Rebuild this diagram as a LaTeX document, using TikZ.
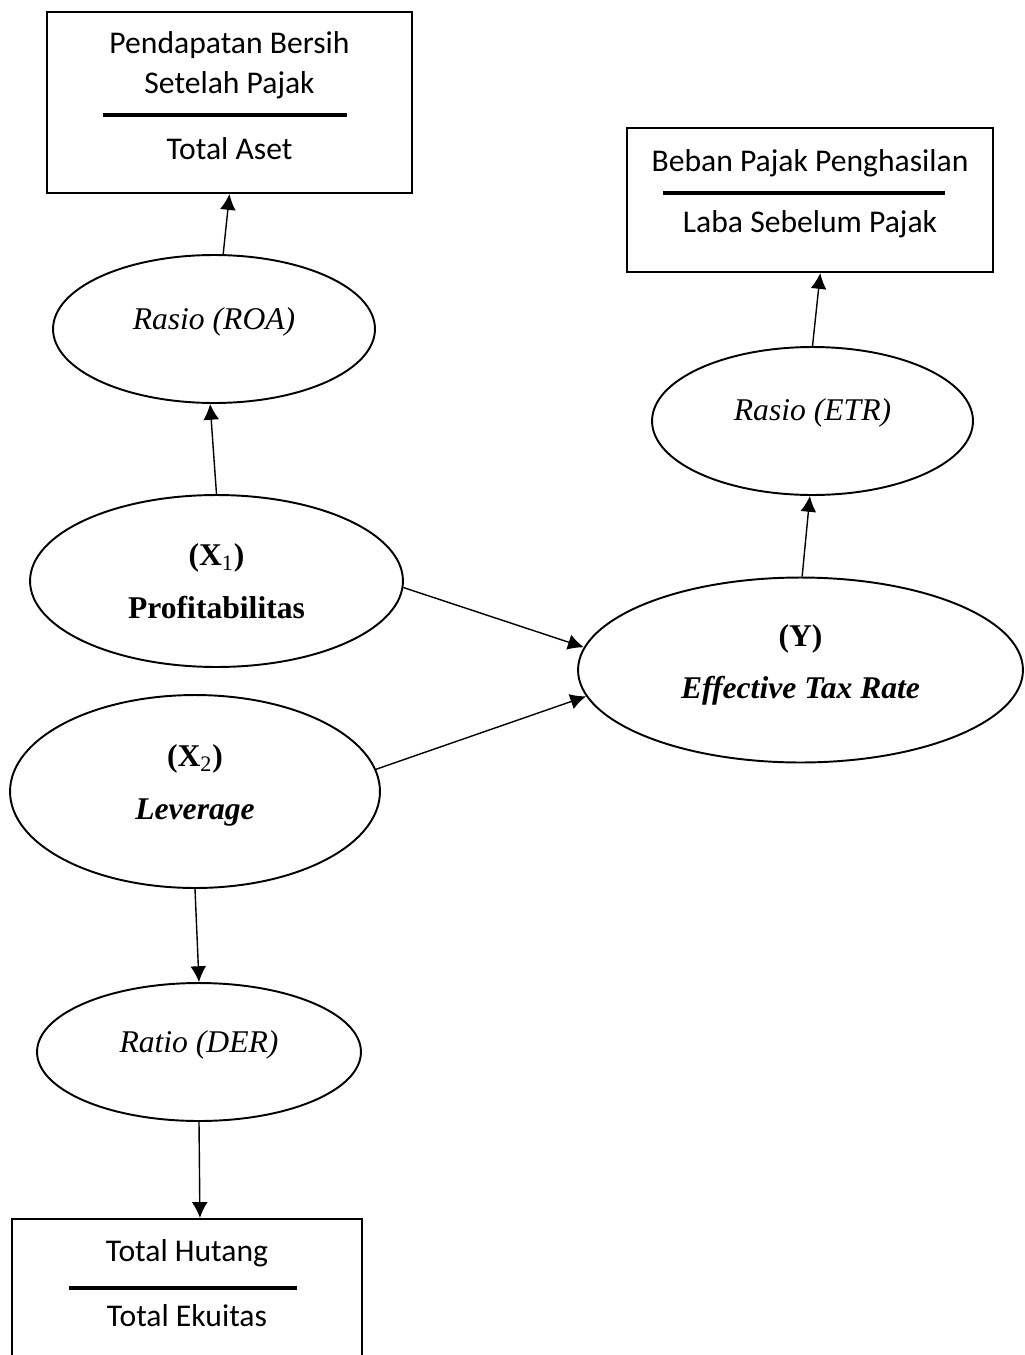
\documentclass[tikz,border=0pt]{standalone}
\usepackage{fontspec}
\setmainfont{Liberation Serif}
\newfontfamily\boxfont{Carlito}
\usetikzlibrary{shapes.geometric,arrows.meta}
\tikzset{>={Latex[length=9pt,width=9pt]}}
\tikzset{
  var/.style={draw, ellipse, line width=1.1pt, inner sep=0pt, align=center, font=\fontsize{18}{30}\selectfont},
  ratiobox/.style={draw, rectangle, line width=1.2pt},
  boxtext/.style={inner sep=0pt, font=\boxfont\fontsize{18}{22}\selectfont},
  link/.style={->, line width=0.8pt},
  fracline/.style={line width=1.8pt}
}

\begin{document}
\begin{tikzpicture}[x=0.02cm,y=-0.02cm]
        \useasboundingbox (0,0) rectangle (1024,1355);

        % indicator boxes
        \node[ratiobox, minimum width=7.3cm, minimum height=3.62cm] (roabox) at (229.5,102.5) {};
        \node[boxtext] (roatop) at (229.5,45) {Pendapatan Bersih};
        \node[boxtext] (roamid) at (229.5,85) {Setelah Pajak};
        \node[boxtext] (roabot) at (229.5,149) {Total Aset};
        \draw[fracline] (103,115) -- (347,115);

        \node[ratiobox, minimum width=7.32cm, minimum height=2.88cm] (etrbox) at (810,200) {};
        \node[boxtext] (etrtop) at (810,163) {Beban Pajak Penghasilan};
        \node[boxtext] (etrbot) at (810,224) {Laba Sebelum Pajak};
        \draw[fracline] (663,193) -- (945,193);

        \node[ratiobox, minimum width=7.0cm, minimum height=3.64cm] (derbox) at (187,1310) {};
        \node[boxtext] (dertop) at (187,1253) {Total Hutang};
        \node[boxtext] (derbot) at (187,1316) {Total Ekuitas};
        \draw[fracline] (69,1288) -- (297,1288);

        % variables
        \node[var, minimum width=6.44cm, minimum height=2.96cm, text depth=12pt] (roa) at (214,329) {\textit{Rasio (ROA)}};
        \node[var, minimum width=6.42cm, minimum height=2.96cm, text depth=13pt] (etr) at (812.5,421) {\textit{Rasio (ETR)}};
        \node[var, minimum width=7.46cm, minimum height=3.44cm] (xone) at (216.5,581) {\textbf{(X\textsubscript{\mdseries 1})}\\\textbf{Profitabilitas}};
        \node[var, minimum width=7.4cm, minimum height=3.86cm, text depth=11pt] (xtwo) at (195,791.5) {\textbf{(X\textsubscript{\mdseries 2})}\\\textbf{\textit{Leverage}}};
        \node[var, minimum width=8.9cm, minimum height=3.7cm, text depth=9.5pt] (yvar) at (800.5,670) {\textbf{(Y)}\\\textbf{\textit{Effective Tax Rate}}};
        \node[var, minimum width=6.48cm, minimum height=2.76cm, text depth=12pt] (der) at (199,1052) {\textit{Ratio (DER)}};

        \draw[link] (roa.83) -- (roabox.south);
        \draw[link] (xone.north) -- (roa.267);
        \draw[link] (xone.-2) -- (yvar.174);
        \draw[link] (xtwo.7) -- (yvar.187);
        \draw[link] (yvar.89) -- (etr.268);
        \draw[link] (etr.north) -- (etrbox.-82);
        \draw[link] (xtwo.south) -- (der.north);
        \draw[link] (der.south) -- (derbox.82);
\end{tikzpicture}
\end{document}
